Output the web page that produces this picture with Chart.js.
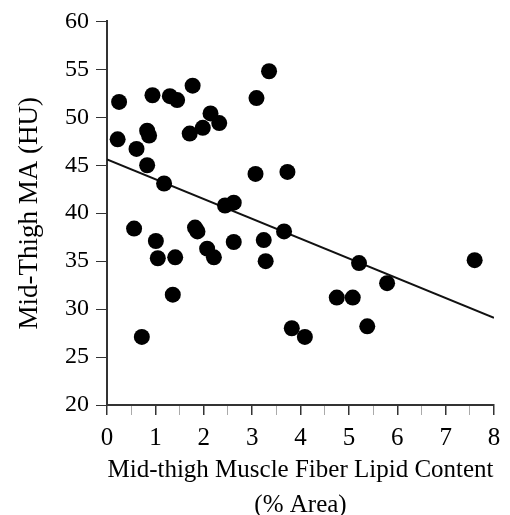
<!DOCTYPE html>
<html>
<head>
<meta charset="utf-8">
<script src="https://cdn.jsdelivr.net/npm/chart.js@4"></script>
<style>
  body { margin: 0; background: #fff; }
  #wrap { width: 510px; height: 515px; }
</style>
</head>
<body>
<div id="wrap"><canvas id="chartCanvas"></canvas></div>
<script>
// fiber lipid content (% area) and mid-thigh muscle attenuation (HU)
const lipidContent = [0.25, 0.22, 0.61, 0.83, 0.87, 0.83, 0.94, 1.30, 1.45, 1.77, 1.71, 1.98, 2.14, 2.32,
  1.18, 2.44, 2.62, 3.09, 3.35, 3.07, 3.73,
  0.56, 1.01, 1.05, 1.41, 1.36, 0.72, 1.82, 1.87, 2.07, 2.21, 2.62, 3.24, 3.28, 3.66, 3.82,
  5.21, 5.79, 4.75, 5.08, 5.38, 4.09, 7.60];
const muscleMA = [51.6, 47.7, 46.7, 48.6, 48.1, 45.0, 52.3, 52.2, 51.8, 53.3, 48.3, 48.9, 50.4, 49.4,
  43.1, 40.8, 41.1, 52.0, 54.8, 44.1, 44.3,
  38.4, 37.1, 35.3, 35.4, 31.5, 27.1, 38.5, 38.1, 36.3, 35.4, 37.0, 37.2, 35.0, 38.1, 28.0,
  34.8, 32.7, 31.2, 31.2, 28.2, 27.1, 35.1];
// regression line end points
const fitX = [0, 8];
const fitY = [45.6, 29.1];
const xTicks = [0, 1, 2, 3, 4, 5, 6, 7, 8];
const yTicks = [20, 25, 30, 35, 40, 45, 50, 55, 60];

const serif = "'Liberation Serif', 'Times New Roman', serif";
const ink = '#000';

function showChart() {
  const points = lipidContent.map((x, i) => ({ x: x, y: muscleMA[i] }));
  const fit = fitX.map((x, i) => ({ x: x, y: fitY[i] }));

  new Chart(document.getElementById('chartCanvas'), {
    type: 'scatter',
    data: {
      datasets: [{
        label: 'Subjects',
        data: points,
        pointRadius: 8,
        pointHoverRadius: 8,
        backgroundColor: ink,
        borderColor: ink,
        borderWidth: 0
      }, {
        label: 'Fit',
        type: 'line',
        data: fit,
        showLine: true,
        borderColor: '#111',
        borderWidth: 2,
        pointRadius: 0,
        fill: false
      }]
    },
    options: {
      responsive: true,
      maintainAspectRatio: false,
      animation: false,
      layout: { padding: { top: 17, right: 16, left: 0, bottom: -8 } },
      plugins: { legend: { display: false }, tooltip: { enabled: false } },
      scales: {
        x: {
          type: 'linear',
          min: 0,
          max: 8,
          afterFit: s => { s.height = 118; },
          afterBuildTicks: s => {
            const t = [];
            for (let v = 0; v <= 16; v++) t.push({ value: v / 2 });
            s.ticks = t;
          },
          ticks: {
            color: ink,
            font: { family: serif, size: 25 },
            padding: 8,
            maxRotation: 0,
            autoSkip: false,
            callback: v => (xTicks.includes(v) ? String(v) : '')
          },
          grid: {
            drawOnChartArea: false,
            drawTicks: true,
            tickLength: 10,
            color: c => (Number.isInteger(c.tick && c.tick.value) ? '#333' : '#aaa'),
            lineWidth: c => (Number.isInteger(c.tick && c.tick.value) ? 1.5 : 1)
          },
          border: { color: '#333', width: 2 },
          title: {
            display: true,
            text: ['Mid-thigh Muscle Fiber Lipid Content', '(% Area)'],
            color: ink,
            font: { family: serif, size: 25, lineHeight: 1.4 },
            padding: { top: 0, bottom: 0 }
          }
        },
        y: {
          min: 20,
          max: 60,
          afterFit: s => { s.width = 107; },
          afterBuildTicks: s => { s.ticks = yTicks.map(v => ({ value: v })); },
          ticks: {
            color: ink,
            font: { family: serif, size: 24 },
            padding: 7
          },
          grid: {
            drawOnChartArea: false,
            drawTicks: true,
            tickLength: 11,
            color: '#333'
          },
          border: { color: '#333', width: 2 },
          title: {
            display: true,
            text: 'Mid-Thigh MA (HU)',
            color: ink,
            font: { family: serif, size: 27 },
            padding: { top: 14, bottom: 0 }
          }
        }
      }
    }
  });
}

// make sure the serif face is ready before drawing
Promise.all([
  document.fonts.load("24px 'Liberation Serif'"),
  document.fonts.load("27px 'Liberation Serif'")
]).catch(() => {}).then(showChart);
</script>
</body>
</html>
